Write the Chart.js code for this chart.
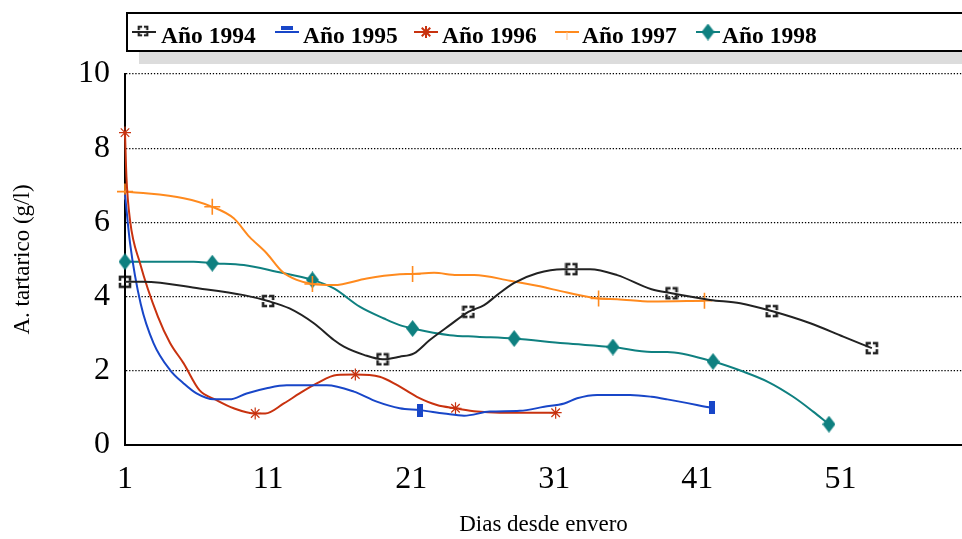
<!DOCTYPE html>
<html>
<head>
<meta charset="utf-8">
<title>A. tartarico desde envero</title>
<script src="https://cdn.jsdelivr.net/npm/chart.js"></script>
<style>
  html, body { margin: 0; padding: 0; background: #fff; }
</style>
</head>
<body>
<canvas id="chart" width="962" height="539"></canvas>
<script>
// valores: dias desde envero / acido tartarico (g/l)
const years = ['Año 1994', 'Año 1995', 'Año 1996', 'Año 1997', 'Año 1998'];

const days1994 = [1, 2.3, 6.2, 9.3, 11, 12.5, 14.2, 15.6, 16.3, 17.7, 19, 20.2, 21.2, 22.3, 23.7, 25, 26.1, 27, 28.2, 29.8, 31.6, 32.2, 33.5, 35.4, 37.8, 39.2, 41.9, 44, 46.2, 48.9, 51.2, 53.2];
const vals1994 = [4.40, 4.40, 4.22, 4.04, 3.88, 3.68, 3.28, 2.83, 2.65, 2.43, 2.31, 2.38, 2.47, 2.83, 3.23, 3.59, 3.77, 4.04, 4.37, 4.63, 4.74, 4.74, 4.74, 4.58, 4.20, 4.09, 3.91, 3.82, 3.61, 3.28, 2.92, 2.61];
const marks1994 = [1, 11, 19, 25, 32.2, 39.2, 46.2, 53.2];

const days1995 = [1, 1.35, 2.1, 3, 4.15, 5.1, 6, 7.2, 8.3, 9.5, 10.9, 12.3, 15.1, 17, 18.6, 20.2, 21.6, 23.3, 24.7, 26.5, 28.6, 30.3, 31.7, 32.6, 34, 36.3, 37.8, 38.9, 42];
const vals1995 = [6.75, 5.45, 3.80, 2.74, 2.02, 1.66, 1.39, 1.23, 1.23, 1.39, 1.53, 1.61, 1.61, 1.44, 1.17, 0.99, 0.94, 0.85, 0.79, 0.90, 0.92, 1.03, 1.12, 1.26, 1.35, 1.35, 1.30, 1.23, 1.00];
const marks1995 = [21.6, 42];

const days1996 = [1, 1.1, 1.35, 2.05, 3.3, 4.15, 5.1, 6.2, 7.4, 8.6, 10.1, 10.8, 12.1, 13.2, 14.4, 15.8, 17.1, 18.8, 20, 21.4, 22.8, 24.1, 25.6, 27.2, 31.1];
const vals1996 = [8.42, 7.23, 6.06, 4.90, 3.46, 2.75, 2.20, 1.48, 1.21, 0.99, 0.85, 0.85, 1.12, 1.39, 1.66, 1.89, 1.90, 1.84, 1.62, 1.30, 1.08, 0.99, 0.90, 0.87, 0.87];
const marks1996 = [1, 10.1, 17.1, 24.1, 31.1];

const days1997 = [1, 2, 5.1, 7.1, 8.6, 9.7, 10.9, 12, 13, 14.1, 15.6, 17.9, 20.2, 21.1, 22.6, 24.2, 25.4, 27.9, 29.8, 31.9, 34.1, 35.4, 37.8, 41.5];
const vals1997 = [6.83, 6.80, 6.65, 6.42, 6.11, 5.61, 5.17, 4.67, 4.45, 4.34, 4.31, 4.49, 4.60, 4.61, 4.64, 4.58, 4.58, 4.43, 4.29, 4.11, 3.95, 3.93, 3.87, 3.89];
const marks1997 = [1, 7.1, 14.1, 21.1, 34.1, 41.5];

const days1998 = [1, 5.8, 7.1, 9.3, 11.6, 14.1, 15.6, 17.4, 19.1, 20.2, 21.1, 23.7, 25.6, 28.2, 31.7, 35.1, 37.8, 38.9, 42.1, 44.2, 45.9, 47.7, 49.1, 50.2];
const vals1998 = [4.94, 4.94, 4.90, 4.85, 4.67, 4.45, 4.22, 3.73, 3.41, 3.23, 3.14, 2.96, 2.92, 2.87, 2.74, 2.64, 2.51, 2.51, 2.25, 1.98, 1.71, 1.30, 0.90, 0.56];
const marks1998 = [1, 7.1, 14.1, 21.1, 28.2, 35.1, 42.1, 50.2];

const xTicks = [1, 11, 21, 31, 41, 51];
const yTicks = [0, 2, 4, 6, 8, 10];

const serif = '"Liberation Serif", "Times New Roman", serif';
const colors = ['#222222', '#1846c8', '#c8320f', '#ff8a1e', '#0f8080'];

// marcadores dibujados a mano
function makeMarker(w, h, draw) {
  const c = document.createElement('canvas');
  c.width = w; c.height = h;
  draw(c.getContext('2d'), w, h);
  return c;
}
const squareMark = makeMarker(14, 14, (g) => {
  g.strokeStyle = '#222'; g.lineWidth = 2.6;
  const a = 2, b = 12, l = 4;
  g.beginPath();
  g.moveTo(a, a + l); g.lineTo(a, a); g.lineTo(a + l, a);
  g.moveTo(b - l, a); g.lineTo(b, a); g.lineTo(b, a + l);
  g.moveTo(b, b - l); g.lineTo(b, b); g.lineTo(b - l, b);
  g.moveTo(a + l, b); g.lineTo(a, b); g.lineTo(a, b - l);
  g.stroke();
});
const barMark = makeMarker(6, 13, (g, w, h) => { g.fillStyle = colors[1]; g.fillRect(0, 0, w, h); });
const barLegend = makeMarker(12, 4, (g, w, h) => { g.fillStyle = colors[1]; g.fillRect(0, 0, w, h); });
const diamondMark = makeMarker(13, 17, (g, w, h) => {
  g.fillStyle = colors[4];
  g.beginPath();
  g.moveTo(w / 2, 0); g.lineTo(w, h / 2); g.lineTo(w / 2, h); g.lineTo(0, h / 2);
  g.closePath(); g.fill();
});

const seriesDays = [days1994, days1995, days1996, days1997, days1998];
const seriesVals = [vals1994, vals1995, vals1996, vals1997, vals1998];
const seriesMarks = [marks1994, marks1995, marks1996, marks1997, marks1998];
const styles = [squareMark, barMark, 'star', 'cross', diamondMark];
const sizes = [6, 6, 6, 8, 7];

const datasets = years.map((name, i) => ({
  label: name,
  data: seriesDays[i].map((d, j) => ({ x: d, y: seriesVals[i][j] })),
  borderColor: colors[i],
  backgroundColor: colors[i],
  borderWidth: 2,
  cubicInterpolationMode: 'monotone',
  pointStyle: styles[i],
  pointBorderColor: colors[i],
  pointBorderWidth: i === 3 ? 1.6 : 1.2,
  pointRadius: (ctx) => seriesMarks[i].includes(ctx.raw.x) ? sizes[i] : 0,
  clip: 12
}));

// leyenda con recuadro y sombra
const legendBox = {
  id: 'legendBox',
  afterDraw(chart) {
    const g = chart.ctx;
    g.save();
    g.fillStyle = '#dcdcdc';
    g.fillRect(139, 25, 830, 39);
    g.fillStyle = '#fff';
    g.fillRect(127, 13, 840, 38);
    g.strokeStyle = '#000'; g.lineWidth = 2;
    g.strokeRect(127, 13, 840, 38);
    const centers = [144, 287, 426, 567, 708];
    const textX = [161, 303, 442, 582, 722];
    g.font = 'bold 23.5px ' + serif;
    g.textBaseline = 'alphabetic';
    years.forEach((name, i) => {
      const cx = centers[i], cy = 32;
      g.strokeStyle = colors[i]; g.lineWidth = 2;
      g.beginPath(); g.moveTo(cx - 12, cy); g.lineTo(cx + 12, cy); g.stroke();
      if (i === 0) g.drawImage(squareMark, cx - 7, cy - 7, 12, 12);
      if (i === 1) g.drawImage(barLegend, cx - 6, cy - 6);
      if (i === 2) Chart.helpers.drawPoint(g, { pointStyle: 'star', radius: 6, borderWidth: 1.2 }, cx, cy);
      if (i === 3) { g.lineWidth = 1; g.beginPath(); g.moveTo(cx, cy); g.lineTo(cx, cy + 8); g.strokeStyle = '#ffc08a'; g.stroke(); }
      if (i === 4) g.drawImage(diamondMark, cx - 6.5, cy - 8.5);
      g.fillStyle = '#000';
      g.fillText(name, textX[i], 42.5);
    });
    g.restore();
  }
};

new Chart(document.getElementById('chart'), {
  type: 'line',
  data: { datasets: datasets },
  plugins: [legendBox],
  options: {
    responsive: false,
    animation: false,
    devicePixelRatio: 1,
    layout: { autoPadding: false, padding: { top: 74, right: 0, left: 0, bottom: 0 } },
    plugins: { legend: { display: false }, tooltip: { enabled: false } },
    scales: {
      x: {
        type: 'linear',
        min: 1,
        max: 59.5,
        afterBuildTicks: (s) => { s.ticks = xTicks.map(v => ({ value: v })); },
        afterFit: (s) => { s.height = 94; },
        grid: { drawOnChartArea: false, drawTicks: false },
        border: { display: true, color: '#000', width: 2 },
        ticks: { color: '#000', font: { family: serif, size: 32 }, padding: 15, maxRotation: 0, autoSkip: false },
        title: { display: true, text: 'Dias desde envero', color: '#000', font: { family: serif, size: 23 }, padding: { top: 0, bottom: 0 } }
      },
      y: {
        min: 0,
        max: 10,
        afterBuildTicks: (s) => { s.ticks = yTicks.map(v => ({ value: v })); },
        afterFit: (s) => { s.width = 125; },
        grid: { color: '#000', lineWidth: 1.3, drawTicks: false },
        border: { display: true, color: '#000', width: 2, dash: [1.3, 1.8] },
        ticks: { color: '#000', font: { family: serif, size: 32 }, padding: 15 },
        title: { display: true, text: 'A. tartarico (g/l)', color: '#000', font: { family: serif, size: 23 }, padding: { top: 9, bottom: 0 } }
      }
    }
  }
});
</script>
</body>
</html>
